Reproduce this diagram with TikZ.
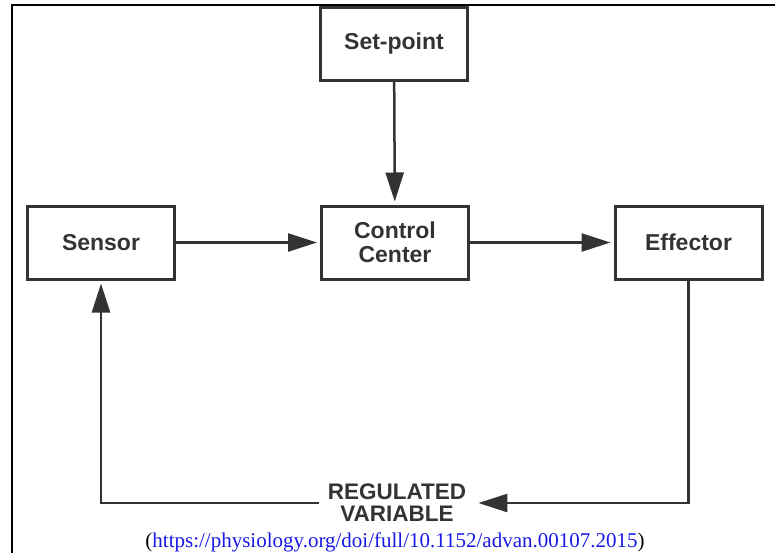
\documentclass[tikz,border=0pt]{standalone}
\usepackage{fontspec}
\setmainfont{Liberation Serif}
\newfontfamily\boxfont{Liberation Sans}
\usetikzlibrary{arrows.meta}
\definecolor{linegray}{HTML}{333333}
\definecolor{urlblue}{RGB}{25,25,230}

\tikzset{
  block/.style={draw=linegray, line width=3pt, minimum width=147pt, minimum height=73pt,
    text=linegray, font=\boxfont\bfseries\fontsize{23}{24}\selectfont, align=center, inner sep=0pt},
  flow/.style={draw=linegray, line width=2.5pt, shorten >=3pt, -{Triangle[length=29pt,width=18pt]}},
}

\begin{document}
\begin{tikzpicture}[x=1pt, y=-1pt]
    \useasboundingbox (0, 0) rectangle (775, 552);
    \draw[line width=2pt] (12, 560) -- (12, 5) -- (775, 5);
    \node[block] (setpt) at (394, 44) {Set-point};
    \node[block] (sensor) at (101, 242.5) {Sensor};
    \node[block] (control) at (395, 242.5) {Control\\Center};
    \node[block] (effector) at (688.5, 242.5) {Effector};
    \node[text=linegray, font=\boxfont\bfseries\fontsize{22.5}{22}\selectfont, align=center, inner xsep=9pt, inner ysep=0pt] (regvar) at (397, 503) {REGULATED\\VARIABLE};
    \draw[flow] (setpt) -- (control);
    \draw[flow] (sensor) -- (control);
    \draw[flow] (control) -- (effector);
    \draw[flow] (effector.south) |- (regvar.east);
    \draw[flow] (regvar.west) -| (sensor.south);
    \node[anchor=base, font=\fontsize{21}{24}\selectfont] (source) at (395, 547) {(\textcolor{urlblue}{https://physiology.org/doi/full/10.1152/advan.00107.2015})};
  \end{tikzpicture}
\end{document}
